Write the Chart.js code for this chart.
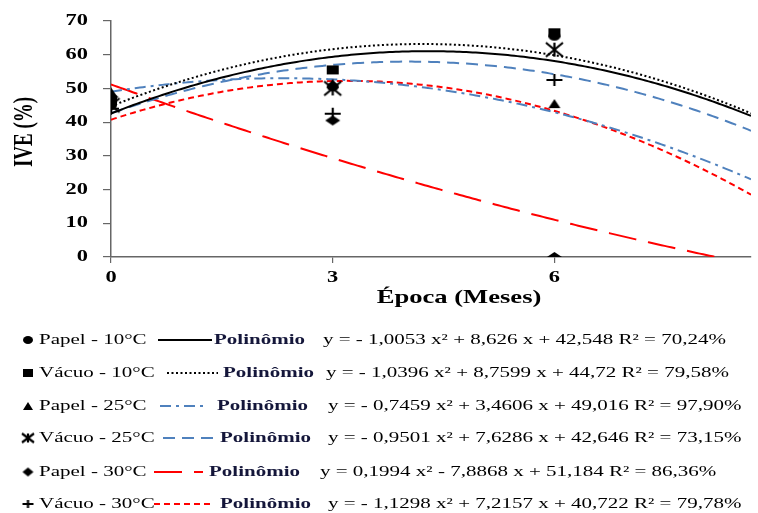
<!DOCTYPE html>
<html>
<head>
<meta charset="utf-8">
<script src="https://cdn.jsdelivr.net/npm/chart.js@4/dist/chart.umd.min.js"></script>
<style>
  html, body { margin: 0; padding: 0; background: #fff; overflow: hidden; }
</style>
</head>
<body>
<canvas id="ive" width="758" height="513"></canvas>
<script>
// mean IVE (%) per storage month
const months = [0, 3, 6];
const papel10 = [45, 50.5, 65.5];
const vacuo10 = [46.5, 55.5, 66.5];
const papel25 = [49, 51.5, 45.5];
const vacuo25 = [45, 50, 61.5];
const papel30 = [47.5, 40.5, 0];
const vacuo30 = [44, 42.5, 52.5];

// polynomial trend coefficients [a, b, c] for y = a x² + b x + c
const fitPapel10 = [-1.0053, 8.626, 42.548];
const fitVacuo10 = [-1.0396, 8.7599, 44.72];
const fitPapel25 = [-0.7459, 3.4606, 49.016];
const fitVacuo25 = [-0.9501, 7.6286, 42.646];
const fitPapel30 = [0.1994, -7.8868, 51.184];
const fitVacuo30 = [-1.1298, 7.2157, 40.722];
const r2 = [70.24, 79.58, 97.90, 73.15, 86.36, 79.78];

const seriesNames = ['Papel - 10°C', 'Vácuo - 10°C', 'Papel - 25°C', 'Vácuo - 25°C', 'Papel - 30°C', 'Vácuo - 30°C'];
const xTicks = [0, 3, 6];
const yTicks = [0, 10, 20, 30, 40, 50, 60, 70];
const X_MAX = 8.66;

const seriesValues = [papel10, vacuo10, papel25, vacuo25, papel30, vacuo30];
const fits = [fitPapel10, fitVacuo10, fitPapel25, fitVacuo25, fitPapel30, fitVacuo30];

// styling
const SERIF = "'Liberation Serif', 'Times New Roman', serif";
const SX = 1.4; // text is drawn wide
const markerKinds = ['circle', 'square', 'triangle', 'star', 'diamond', 'plus'];
const plotMarkerSize = [[12, 9], [12, 9], [12, 9], [17, 14], [15, 10], [16, 12]];
const legendMarkerSize = [[10, 8], [10, 8], [10, 8], [12, 9], [11, 9], [11, 8]];
const lineColors = ['#000000', '#000000', '#4f81bd', '#4f81bd', '#ff0000', '#ff0000'];
const lineDashes = [[], [2, 2.5], [11, 5, 3, 5], [12, 7], [28, 12], [6, 4]];

// legend layout
const legendY = [340, 373, 406, 438, 472, 504];
const legendLine = [[158, 212], [167, 218], [160, 203], [163, 213], [154, 203], [154, 213]];
const legendPoli = [214, 223, 217, 220, 209, 220];
const legendEq = [323, 326, 328, 328, 320, 328];

function makeMarker(kind, w, h) {
  const c = document.createElement('canvas');
  c.width = w + 4;
  c.height = h + 4;
  const g = c.getContext('2d');
  const x0 = 2, y0 = 2, cx = c.width / 2, cy = c.height / 2;
  g.fillStyle = '#000';
  g.strokeStyle = '#000';
  g.lineWidth = 2.2;
  g.beginPath();
  if (kind === 'circle') {
    g.ellipse(cx, cy, w / 2, h / 2, 0, 0, Math.PI * 2); g.fill();
  } else if (kind === 'square') {
    g.rect(x0, y0, w, h); g.fill();
  } else if (kind === 'triangle') {
    g.moveTo(cx, y0); g.lineTo(x0 + w, y0 + h); g.lineTo(x0, y0 + h); g.closePath(); g.fill();
  } else if (kind === 'diamond') {
    g.moveTo(cx, y0); g.lineTo(x0 + w, cy); g.lineTo(cx, y0 + h); g.lineTo(x0, cy); g.closePath(); g.fill();
  } else if (kind === 'star') {
    g.moveTo(x0, y0); g.lineTo(x0 + w, y0 + h);
    g.moveTo(x0 + w, y0); g.lineTo(x0, y0 + h);
    g.moveTo(cx, y0); g.lineTo(cx, y0 + h);
    g.stroke();
  } else if (kind === 'plus') {
    g.moveTo(x0, cy); g.lineTo(x0 + w, cy);
    g.moveTo(cx, y0); g.lineTo(cx, y0 + h);
    g.stroke();
  }
  return c;
}

function num(v) { return String(Math.abs(v)).replace('.', ','); }
function equation(f, r) {
  const [a, b, c] = f;
  return 'y = ' + (a < 0 ? '- ' : '') + num(a) + ' x² ' +
    (b < 0 ? '- ' : '+ ') + num(b) + ' x ' +
    (c < 0 ? '- ' : '+ ') + num(c) + ' R² = ' + r.toFixed(2).replace('.', ',') + '%';
}

function curve(f) {
  const pts = [];
  for (let i = 0; i <= 200; i++) {
    const x = X_MAX * i / 200;
    pts.push({ x: x, y: f[0] * x * x + f[1] * x + f[2] });
  }
  return pts;
}

function wideText(ctx, text, x, y, font, align, color) {
  ctx.save();
  ctx.font = font;
  ctx.fillStyle = color || '#000';
  ctx.textBaseline = 'middle';
  ctx.textAlign = align || 'left';
  ctx.translate(x, y);
  ctx.scale(SX, 1);
  ctx.fillText(text, 0, 0);
  ctx.restore();
}

const plotMarkers = markerKinds.map((k, i) => makeMarker(k, plotMarkerSize[i][0], plotMarkerSize[i][1]));
const legendMarkers = markerKinds.map((k, i) => makeMarker(k, legendMarkerSize[i][0], legendMarkerSize[i][1]));

const datasets = [];
seriesValues.forEach((vals, i) => {
  datasets.push({
    label: seriesNames[i],
    data: months.map((m, j) => ({ x: m, y: vals[j] })),
    showLine: false,
    pointStyle: plotMarkers[i],
    pointRadius: 6
  });
});
fits.forEach((f, i) => {
  datasets.push({
    label: 'Polinômio',
    data: curve(f),
    showLine: true,
    pointRadius: 0,
    borderColor: lineColors[i],
    borderDash: lineDashes[i],
    borderWidth: 2,
    tension: 0,
    fill: false
  });
});

const textPlugin = {
  id: 'textPlugin',
  afterDraw(chart) {
    const ctx = chart.ctx;
    const xs = chart.scales.x, ys = chart.scales.y;

    yTicks.forEach(v => wideText(ctx, String(v), 88, ys.getPixelForValue(v), 'bold 16px ' + SERIF, 'right'));
    xTicks.forEach(v => wideText(ctx, String(v), xs.getPixelForValue(v), 278, 'bold 16px ' + SERIF, 'center'));

    wideText(ctx, 'Época (Meses)', 459, 298, 'bold 19px ' + SERIF, 'center');

    ctx.save();
    ctx.translate(25, 132);
    ctx.scale(SX, 1);
    ctx.rotate(-Math.PI / 2);
    ctx.font = 'bold 19px ' + SERIF;
    ctx.fillStyle = '#000';
    ctx.textAlign = 'center';
    ctx.textBaseline = 'middle';
    ctx.fillText('IVE (%)', 0, 0);
    ctx.restore();

    seriesNames.forEach((name, i) => {
      const y = legendY[i];
      const m = legendMarkers[i];
      ctx.drawImage(m, 28 - m.width / 2, y - m.height / 2);
      wideText(ctx, name, 39, y, '15px ' + SERIF, 'left');

      ctx.save();
      ctx.strokeStyle = lineColors[i];
      ctx.lineWidth = 2;
      ctx.setLineDash(lineDashes[i]);
      ctx.beginPath();
      ctx.moveTo(legendLine[i][0], y);
      ctx.lineTo(legendLine[i][1], y);
      ctx.stroke();
      ctx.restore();

      wideText(ctx, 'Polinômio', legendPoli[i], y, 'bold 15px ' + SERIF, 'left', '#14163a');
      wideText(ctx, equation(fits[i], r2[i]), legendEq[i], y, '15px ' + SERIF, 'left');
    });
  }
};

new Chart(document.getElementById('ive'), {
  type: 'scatter',
  data: { datasets: datasets },
  options: {
    responsive: false,
    animation: false,
    events: [],
    layout: { padding: { top: 21, right: 0, bottom: 0, left: 0 } },
    plugins: { legend: { display: false }, tooltip: { enabled: false } },
    scales: {
      x: {
        type: 'linear',
        min: 0,
        max: X_MAX,
        afterBuildTicks: s => { s.ticks = xTicks.map(v => ({ value: v })); },
        afterFit: s => { s.height = 256; },
        ticks: { display: false },
        grid: { drawOnChartArea: false, tickLength: 6, color: '#666', lineWidth: 1.2 },
        border: { color: '#666', width: 1.5 }
      },
      y: {
        min: 0,
        max: 70,
        afterBuildTicks: s => { s.ticks = yTicks.map(v => ({ value: v })); },
        afterFit: s => { s.width = 111; },
        ticks: { display: false },
        grid: { drawOnChartArea: false, tickLength: 8, color: '#666', lineWidth: 1.2 },
        border: { color: '#666', width: 1.5 }
      }
    }
  },
  plugins: [textPlugin]
});
</script>
</body>
</html>
